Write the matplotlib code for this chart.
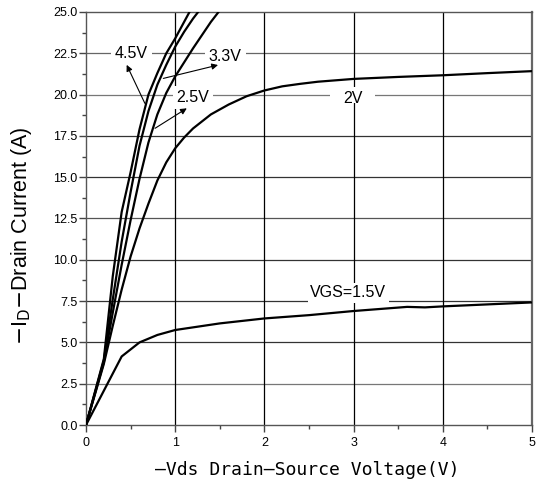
import matplotlib
matplotlib.use("Agg")
import matplotlib.pyplot as plt
from matplotlib.patches import Rectangle
import numpy as np

# ---- data ----
v45 = [0, 0.2, 0.3, 0.4, 0.5, 0.6, 0.7, 0.8, 0.9, 1.0, 1.1, 1.2]
i45 = [0, 4.0, 9.0, 12.9, 15.3, 17.9, 20.0, 21.3, 22.5, 23.4, 24.4, 25.4]

v33 = [0, 0.2, 0.3, 0.4, 0.5, 0.6, 0.7, 0.8, 0.9, 1.0, 1.1, 1.2, 1.3]
i33 = [0, 3.9, 7.6, 11.1, 14.1, 16.9, 19.0, 20.6, 21.8, 22.9, 23.8, 24.6, 25.3]

v25 = [0, 0.2, 0.3, 0.4, 0.5, 0.6, 0.7, 0.8, 0.9, 1.0, 1.2, 1.4, 1.6]
i25 = [0, 3.8, 6.8, 9.7, 12.4, 14.9, 17.1, 18.8, 20.1, 21.1, 22.8, 24.4, 25.8]

v20 = [0, 0.2, 0.3, 0.4, 0.5, 0.6, 0.7, 0.8, 0.9, 1.0, 1.1, 1.2, 1.4, 1.6, 1.8, 2.0,
       2.2, 2.4, 2.6, 3.0, 3.5, 4.0, 4.5, 5.0]
i20 = [0, 3.7, 6.0, 8.2, 10.2, 11.9, 13.4, 14.8, 15.9, 16.75, 17.4, 17.95, 18.8, 19.4, 19.9, 20.25,
       20.5, 20.65, 20.78, 20.95, 21.07, 21.17, 21.3, 21.42]

v15 = [0, 0.4, 0.6, 0.8, 1.0, 1.5, 2.0, 2.5, 3.0, 3.6, 3.8, 4.0, 4.5, 5.0]
i15 = [0, 4.15, 5.0, 5.45, 5.75, 6.15, 6.45, 6.65, 6.9, 7.15, 7.12, 7.18, 7.3, 7.42]

xticks = [0, 1, 2, 3, 4, 5]
yticks = [0, 2.5, 5, 7.5, 10, 12.5, 15, 17.5, 20, 22.5, 25]
ytick_labels = ["0.0", "2.5", "5.0", "7.5", "10.0", "12.5", "15.0", "17.5", "20.0", "22.5", "25.0"]

fig = plt.figure(figsize=(5.37, 4.95), dpi=100)
ax = fig.add_axes([86/537, 1-425/495, (532-86)/537, (425-12)/495])
ax.set_xlim(0, 5)
ax.set_ylim(0, 25)

# grid
hcols = {2.5: '#777777', 5: '#333333', 7.5: '#333333', 10: '#333333', 12.5: '#555555',
         15: '#333333', 17.5: '#333333', 20: '#777777', 22.5: '#666666'}
for y in yticks[1:-1]:
    ax.axhline(y, color=hcols.get(y, '#444444'), lw=0.9, zorder=1)
for x in xticks[1:-1]:
    ax.axvline(x, color='black', lw=0.9, zorder=1)

# white mask behind the "2V" label
ax.add_patch(Rectangle((2.735, 19.49), 0.505, 0.97, fc='white', ec='none', zorder=2))

for vv, ii in [(v45, i45), (v33, i33), (v25, i25), (v20, i20), (v15, i15)]:
    ax.plot(vv, ii, color='black', lw=1.6, zorder=3, clip_on=True)

bbox = dict(boxstyle='square,pad=0.25', fc='white', ec='none')
tfont = dict(family='Liberation Sans', fontsize=11.5, zorder=4)
ax.text(0.505, 22.5, "4.5V", ha='center', va='center', bbox=bbox, **tfont)
ax.text(1.56, 22.3, "3.3V", ha='center', va='center', bbox=bbox, **tfont)
ax.text(1.2, 19.8, "2.5V", ha='center', va='center', bbox=bbox, **tfont)
ax.text(2.99, 19.75, "2V", ha='center', va='center', **tfont)
ax.text(2.94, 8.0, "VGS=1.5V", ha='center', va='center',
        bbox=dict(boxstyle='square,pad=0.15', fc='white', ec='none'), **tfont)

ap = dict(arrowstyle='-|>', color='black', lw=0.8, mutation_scale=9, shrinkA=0, shrinkB=0)
ax.annotate("", xy=(0.456, 21.8), xytext=(0.66, 19.47), arrowprops=ap, zorder=5)
ax.annotate("", xy=(1.48, 21.79), xytext=(0.867, 20.98), arrowprops=ap, zorder=5)
ax.annotate("", xy=(1.13, 19.17), xytext=(0.774, 17.96), arrowprops=ap, zorder=5)

ax.set_xticks(xticks)
ax.set_xticklabels([str(x) for x in xticks], family='Liberation Sans', fontsize=9)
ax.set_xticks(np.arange(0.5, 5, 1.0), minor=True)
ax.set_yticks(yticks)
ax.set_yticklabels(ytick_labels, family='Liberation Sans', fontsize=9)
ax.set_yticks(np.arange(1.25, 25, 2.5), minor=True)
ax.tick_params(axis='both', which='major', length=5, width=1, color='#444444', pad=4)
ax.tick_params(axis='both', which='minor', length=3, width=1, color='#444444')
ax.tick_params(axis='y', pad=1)

for s in ['left', 'bottom', 'top']:
    ax.spines[s].set_color('#555555')
    ax.spines[s].set_linewidth(1.0)
ax.spines['right'].set_color('#666666')
ax.spines['right'].set_linewidth(1.6)

fig.text(307/537, 1-470/495, "\u2014Vds Drain\u2014Source Voltage(V)", ha='center', va='center',
         family='DejaVu Sans Mono', fontsize=13)
fig.text(22/537, 1-236/495, r"$-$I$_{\mathrm{D}}$$-$Drain Current (A)", ha='center', va='center',
         rotation=90, family='Liberation Sans', fontsize=15.5)

fig.savefig("out.png", dpi=100)
